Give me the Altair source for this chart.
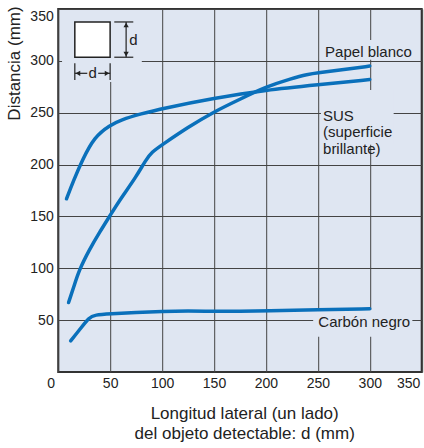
import altair as alt
import pandas as pd

# Detection distance curves (x: side length d in mm, y: distance in mm)
papel_x = [10, 15, 20, 30, 40, 50, 60, 75, 84, 90, 100, 125, 150, 175, 200, 225, 240, 250, 275, 300]
papel_y = [67, 82, 98, 118, 135, 151, 167, 188, 204, 212, 219, 236, 251, 263, 275, 283, 287, 288.5, 291.5, 295]

sus_x = [8, 15, 23, 35, 50, 60, 80, 100, 150, 200, 250, 300]
sus_y = [167, 185, 204, 227, 238, 243, 249, 254, 264, 272, 277, 282]

carbon_x = [12, 20, 30, 35, 50, 75, 100, 125, 150, 175, 200, 250, 300]
carbon_y = [30, 40, 53, 55, 56, 57.5, 58.5, 59, 58.5, 58.5, 59, 60, 61]

x_ticks = [0, 50, 100, 150, 200, 250, 300, 350]
y_ticks = [50, 100, 150, 200, 250, 300, 350]

BG = "#dfe6f2"
BLUE = "#0a70bb"
INK = "#222222"
GRID = "#444444"
FONT = "Liberation Sans"

rows = []
for name, xs_, ys_ in [("Papel blanco", papel_x, papel_y),
                       ("SUS", sus_x, sus_y),
                       ("Carbón negro", carbon_x, carbon_y)]:
    for i, (a, b) in enumerate(zip(xs_, ys_)):
        rows.append({"serie": name, "orden": i, "x": a, "y": b})
curves = pd.DataFrame(rows)

xs = alt.Scale(domain=[0, 350], nice=False, zero=False)
ys = alt.Scale(domain=[0, 350], nice=False, zero=False)

x_axis = alt.Axis(
    values=x_ticks, grid=True, gridColor=GRID, gridWidth=1, domain=False,
    ticks=False, tickSize=0, labelFont=FONT, labelFontSize=14, labelColor=INK,
    labelPadding=4, labelFlush=False,
    labelOffset={"condition": [{"test": "datum.value == 0", "value": -7.5},
                               {"test": "datum.value == 350", "value": -13.5}],
                 "value": 0},
    title=["Longitud lateral (un lado)", "del objeto detectable: d (mm)"],
    titleFont=FONT, titleFontSize=17, titleFontWeight="normal", titleColor=INK,
    titleLineHeight=20, titleAlign="center", titleBaseline="alphabetic",
    titleX=186, titleY=46, labelAngle=0,
)
y_axis = alt.Axis(
    values=y_ticks, grid=True, gridColor=GRID, gridWidth=1, domain=False,
    ticks=False, tickSize=0, labelFont=FONT, labelFontSize=14, labelColor=INK,
    labelPadding=5, labelFlush=True,
    title="Distancia (mm)", titleFont=FONT, titleFontSize=17, titleFontWeight="normal",
    titleColor=INK, titleAngle=270, titleAlign="center", titleBaseline="middle",
    titleX=-44, titleY=54,
)


def X(field):
    return alt.X(f"{field}:Q", scale=xs, axis=x_axis)


def Y(field):
    return alt.Y(f"{field}:Q", scale=ys, axis=y_axis)


# Background-coloured patches that break the grid behind the inset and labels
patches = pd.DataFrame({
    "x": [3.7, 252, 253, 245.5],
    "x2": [80.5, 344, 323, 341],
    "y": [279.6, 301, 219, 34],
    "y2": [349, 320, 272, 60],
})
patch_layer = alt.Chart(patches).mark_rect(fill=BG).encode(
    x=X("x"), x2="x2", y=Y("y"), y2="y2"
)

# Inset: square object of side d
square = pd.DataFrame({"x": [16], "x2": [50], "y": [303.5], "y2": [337.5]})
square_layer = alt.Chart(square).mark_rect(fill="white", stroke=INK, strokeWidth=1.5).encode(
    x=X("x"), x2="x2", y=Y("y"), y2="y2"
)

dims = pd.DataFrame({
    "x": [54, 54, 65.4, 16, 50, 16, 38.5],
    "x2": [72.3, 72.3, 65.4, 16, 50, 28, 50],
    "y": [337.5, 303.5, 303.5, 281.6, 281.6, 288, 288],
    "y2": [337.5, 303.5, 337.5, 297.7, 297.7, 288, 288],
})
dim_layer = alt.Chart(dims).mark_rule(color=INK, strokeWidth=1.2).encode(
    x=X("x"), x2="x2", y=Y("y"), y2="y2"
)

heads = pd.DataFrame({
    "x": [65.4, 65.4, 19, 47],
    "y": [334.5, 306.5, 288, 288],
    "shape": ["triangle-up", "triangle-down", "triangle-left", "triangle-right"],
})
head_layer = alt.Chart(heads).mark_point(filled=True, color=INK, opacity=1, size=28).encode(
    x=X("x"), y=Y("y"), shape=alt.Shape("shape:N", scale=None, legend=None)
)

dlabels = pd.DataFrame({"x": [68.5, 33.2], "y": [320, 288], "t": ["d", "d"]})
dtext_left = alt.Chart(dlabels.iloc[[0]]).mark_text(
    font=FONT, fontSize=15, color=INK, align="left", baseline="middle"
).encode(x=X("x"), y=Y("y"), text="t:N")
dtext_mid = alt.Chart(dlabels.iloc[[1]]).mark_text(
    font=FONT, fontSize=15, color=INK, align="center", baseline="middle"
).encode(x=X("x"), y=Y("y"), text="t:N")

line_layer = alt.Chart(curves).mark_line(
    color=BLUE, strokeWidth=3.5, interpolate="basis", strokeCap="round"
).encode(x=X("x"), y=Y("y"), detail="serie:N", order="orden:Q")

labels = pd.DataFrame({
    "x": [257, 255, 250.5],
    "y": [309, 247, 48.5],
    "t": ["Papel blanco", "SUS\n(superficie\nbrillante)", "Carbón negro"],
})
label_layer = alt.Chart(labels).mark_text(
    font=FONT, fontSize=15, color=INK, align="left", baseline="middle",
    lineBreak="\n", lineHeight=16.5
).encode(x=X("x"), y=Y("y"), text="t:N")

chart = alt.layer(
    patch_layer, square_layer, dim_layer, head_layer, dtext_left, dtext_mid,
    line_layer, label_layer
).properties(
    width=363.5, height=363,
    autosize=alt.AutoSizeParams(type="none"),
    padding={"left": 58.2, "top": 9, "right": 2.3, "bottom": 76},
    background="white",
).configure_view(
    fill=BG, stroke="#333333", strokeWidth=2
)

chart.save("out.html", embed_options={"renderer": "svg", "actions": False})
